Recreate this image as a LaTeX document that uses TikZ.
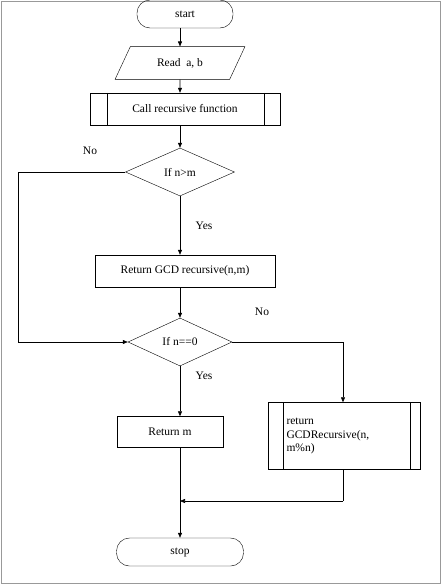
\documentclass[tikz,border=0pt]{standalone}
\usepackage{fontspec}
\setmainfont{Liberation Serif}
\usetikzlibrary{shapes.geometric,arrows.meta}
\tikzset{term/.style={rectangle,rounded corners=13pt,draw=black,minimum width=96pt,minimum height=28pt},
		io/.style={trapezium,trapezium left angle=65,trapezium right angle=115,draw=black,minimum width=130pt,minimum height=26pt,inner xsep=2pt},
		proc/.style={rectangle,draw=black,minimum height=32pt},
		cond/.style={diamond,draw=black,aspect=2.2,inner sep=1pt},
		flow/.style={-{Triangle[length=5pt,width=4pt]},semithick}}
\begin{document}
\begin{tikzpicture}[x=1pt,y=-1pt,font=\fontsize{11.5}{13.5}\selectfont]
		\useasboundingbox (0,0) rectangle (441,584);
		\draw[black!40] (1,1) rectangle (440,583);
		\node[term] (start) at (185,14) {start};
		\node[io] (read) at (180,63) {Read\ \ a, b};
		\node[proc,minimum width=190pt] (call) at (185,109) {Call recursive function};
		\draw ([xshift=17pt]call.north west) -- ([xshift=17pt]call.south west);
		\draw ([xshift=-16pt]call.north east) -- ([xshift=-16pt]call.south east);
		\node[cond,minimum width=109pt,minimum height=48pt] (cmp) at (180,172) {If n>m};
		\node[proc,minimum width=180pt] (ret) at (185,271) {Return GCD recursive(n,m)};
		\node[cond,minimum width=104pt,minimum height=48pt] (zero) at (180,342) {If n==0};
		\node[proc,minimum width=106pt,minimum height=31pt] (retm) at (170,432) {Return m};
		\node[proc,minimum width=152pt,minimum height=67pt,align=left,text width=115pt] (rec) at (344,436) {return\\GCDRecursive(n,\\m\%n)};
		\draw ([xshift=15pt]rec.north west) -- ([xshift=15pt]rec.south west);
		\draw ([xshift=-10pt]rec.north east) -- ([xshift=-10pt]rec.south east);
		\node[term,minimum width=127pt] (stop) at (180,552) {stop};
		\coordinate (left) at (18,172);
		\coordinate (join) at (343,501);
		% connectors
		\draw[flow] (start.south -| 180,0) -- (read.north -| 180,0);
		\draw[flow] (read) -- (call.north -| 180,0);
		\draw[flow] (call.south -| 180,0) -- (cmp.north);
		\draw[flow] (cmp.south) -- node[right=12pt,pos=0.5] {Yes} (ret.north -| 180,0);
		\draw[flow] (cmp.west) -- (left) |- (zero.west);
		\node at (90,151) {No};
		\draw[flow] (ret.south -| 180,0) -- (zero.north);
		\draw[flow] (zero.east) -| (rec.north -| 343,0);
		\node at (262,312) {No};
		\draw[flow] (zero.south) -- node[right=12pt,pos=0.2] {Yes} (retm.north -| 180,0);
		\draw (rec.south -| 343,0) -- (join);
		\draw[flow] (join) -- (180,501);
		\draw[flow] (retm.south -| 180,0) -- (stop.north);
\end{tikzpicture}
\end{document}
